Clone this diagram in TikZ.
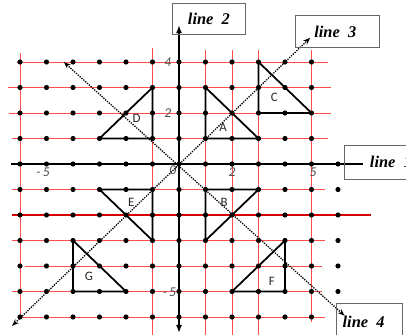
\documentclass[tikz,border=0pt]{standalone}
\usepackage{fontspec}
\setmainfont{Liberation Serif}
\newfontfamily\tagfont{Carlito}
\usetikzlibrary{arrows.meta}

\begin{document}
\begin{tikzpicture}[x=0.795cm,y=0.765cm,
  gridline/.style={red!70,line width=0.7pt},
  axis/.style={black,line width=1.8pt},
  tri/.style={black,line width=1.5pt,line join=miter},
  mirror/.style={black,densely dotted,line width=1.1pt,{Stealth[length=6pt,open]}-{Stealth[length=6pt,open]}},
  tagbox/.style={draw=black!60,line width=0.8pt},
  linetag/.style={font=\fontsize{14}{16}\selectfont\bfseries\itshape},
  tick/.style={font=\tagfont\itshape\fontsize{11.5}{13}\selectfont,text=black!70,inner sep=1pt},
  trilabel/.style={font=\tagfont\fontsize{11}{13}\selectfont,text=black!85,inner sep=1pt}]
\clip (-6.755,-6.706) rectangle (8.566,6.431);

% red grid
\draw[gridline] (-6,4.35) -- (-6,-6);
\draw[gridline] (-1,4.55) -- (-1,-6.8);
\draw[gridline] (1,4.47) -- (1,-6.8);
\draw[gridline] (2,4.47) -- (2,-6.8);
\draw[gridline] (3,4.47) -- (3,-6.8);
\draw[gridline] (5,4.47) -- (5,-6.2);
\draw[gridline] (-6.1,4) -- (5.62,4);
\draw[gridline] (-6.45,3) -- (5.75,3);
\draw[gridline] (-6.4,2) -- (5.75,2);
\draw[gridline] (-6.3,1) -- (5.62,1);
\draw[gridline] (-6.3,-1) -- (5.5,-1);
\draw[red!85!black,line width=0.9pt] (-6.3,-2) -- (7.25,-2);
\draw[gridline] (-6.3,-3) -- (5.5,-3);
\draw[gridline] (-5.8,-4) -- (5.4,-4);
\draw[gridline] (-6.3,-5) -- (5.4,-5);
\draw[gridline] (-6,-6) -- (5.5,-6);

% dots
\foreach \x in {-6,...,5}
  \foreach \y in {-6,...,4}
    \fill (\x,\y) circle (2.2pt);
\foreach \y in {0,...,-5}
  \fill (6,\y) circle (2.2pt);

% axes
\draw[axis] (-6.34,0) -- (6.94,0);
\draw[axis,{Latex[length=7pt]}-{Latex[length=7pt]}] (0,-6.63) -- (0,5.45);

% tick labels
\node[tick] at (-0.42,4) {4};
\node[tick] at (-0.42,2) {2};
\node[tick] at (-0.36,-5.02) {-\,5};
\node[tick] at (-5.13,-0.33) {-\,5};
\node[tick] at (2,-0.33) {2};
\node[tick] at (5.06,-0.33) {5};
\node[tick] at (-0.23,-0.26) {0};

% triangles
\draw[tri] (1,3) -- (1,1) -- (3,1) -- cycle;
\draw[tri] (3,4) -- (3,2) -- (5,2) -- cycle;
\draw[tri] (-1,3) -- (-1,1) -- (-3,1) -- cycle;
\draw[tri] (-3,-1) -- (-1,-1) -- (-1,-3) -- cycle;
\draw[tri] (1,-1) -- (3,-1) -- (1,-3) -- cycle;
\draw[tri] (2,-5) -- (4,-5) -- (4,-3) -- cycle;
\draw[tri] (-4,-3) -- (-4,-5) -- (-2,-5) -- cycle;
\node[trilabel] (A) at (1.66,1.45) {A};
\node[trilabel] (C) at (3.6,2.6) {C};
\node[trilabel] (D) at (-1.6,1.8) {D};
\node[trilabel] (E) at (-1.8,-1.5) {E};
\node[trilabel] (B) at (1.7,-1.5) {B};
\node[trilabel] (F) at (3.5,-4.6) {F};
\node[trilabel] (G) at (-3.4,-4.4) {G};

% mirror lines
\coordinate (l3a) at (-6.3,-6.35);
\coordinate (l3b) at (4.95,4.95);
\coordinate (l4a) at (-4.35,4.0);
\coordinate (l4b) at (6.25,-5.95);
\draw[mirror] (l3a) -- (l3b);
\draw[mirror] (l4a) -- (l4b);

% line tags
\draw[tagbox] (-0.264,6.31) rectangle (2.49,5.06);
\node[linetag] (line2) at (1.13,5.69) {line\ \ 2};
\draw[tagbox] (4.38,5.84) rectangle (7.58,4.55);
\node[linetag,anchor=west] (line3) at (4.95,5.2) {line\ \ 3};
\draw[tagbox] (6.26,0.745) rectangle (9.2,-0.59);
\node[linetag,anchor=west] (line1) at (7.05,0.08) {line\ \ 1};
\draw[tagbox] (5.96,-5.45) rectangle (8.45,-7.0);
\node[linetag,anchor=west] (line4) at (6.02,-6.2) {line\ \ 4};
\end{tikzpicture}
\end{document}
